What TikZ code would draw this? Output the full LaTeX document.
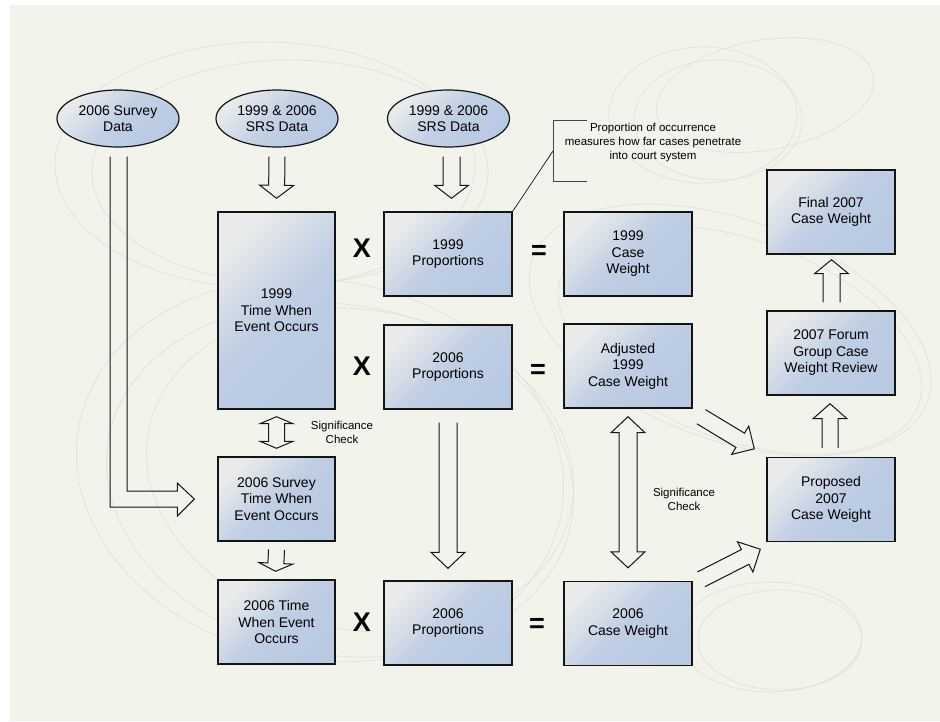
\documentclass[tikz,border=0pt]{standalone}
\usepackage{fontspec}
\setmainfont{Liberation Sans}
\usetikzlibrary{calc,shapes.geometric}
\definecolor{bgc}{HTML}{F2F3EB}
\definecolor{boxlight}{HTML}{E9EBEB}
\definecolor{boxblue}{HTML}{B8C9E2}
\definecolor{swirl}{HTML}{DFE5D9}
\definecolor{ink}{HTML}{141414}
\newcommand\barrow[5]{%
  \coordinate (bh) at ($(#2)!#5!(#1)$);
  \draw[blk] ($(#1)!#3!90:(#2)$) -- ($(bh)!#3!90:(#2)$) -- ($(bh)!#4!90:(#2)$) -- (#2)
    -- ($(bh)!#4!-90:(#2)$) -- ($(bh)!#3!-90:(#2)$) -- ($(#1)!#3!-90:(#2)$);
}
\newcommand\dbarrow[5]{%
  \coordinate (bha) at ($(#1)!#5!(#2)$);
  \coordinate (bhb) at ($(#2)!#5!(#1)$);
  \draw[blk] ($(bha)!#3!90:(#2)$) -- ($(bhb)!#3!-90:(#1)$) -- ($(bhb)!#4!-90:(#1)$) -- (#2)
    -- ($(bhb)!#4!90:(#1)$) -- ($(bhb)!#3!90:(#1)$) -- ($(bha)!#3!-90:(#2)$)
    -- ($(bha)!#4!-90:(#2)$) -- (#1) -- ($(bha)!#4!90:(#2)$) -- cycle;
}
\begin{document}
\begin{tikzpicture}[x=1pt,y=-1pt,
  box/.style={draw=ink, line width=1.4pt, rectangle, inner sep=2pt, align=center,
    font=\fontsize{14}{16.5}\selectfont, top color=boxlight, bottom color=boxblue,
    middle color=boxblue!85!boxlight, shading angle=45,
    minimum width=128pt, minimum height=84pt},
  tallbox/.style={box, minimum width=117pt},
  oval/.style={ellipse, draw=ink, line width=1.2pt, inner sep=0pt, align=center,
    font=\fontsize{14}{16}\selectfont, top color=boxlight, bottom color=boxblue,
    middle color=boxblue!80!boxlight, shading angle=45,
    minimum width=122pt, minimum height=57pt},
  op/.style={font=\fontsize{27}{27}\bfseries\selectfont, inner sep=0pt},
  note/.style={font=\fontsize{11.5}{14}\selectfont, align=center, inner sep=0pt},
  blk/.style={draw=ink, line width=1pt, line join=miter},
  sw/.style={draw=swirl, line width=0.8pt}]
\useasboundingbox (0,0) rectangle (940,721);
\fill[white] (0,0) rectangle (940,721);
\fill[bgc] (10,5) rectangle (940,721);
% decorative swirls
\draw[sw] (265,165) ellipse [x radius=210, y radius=123];
\draw[sw] (290,172) ellipse [x radius=198, y radius=112];
\draw[sw] (320,470) ellipse [x radius=245, y radius=190, rotate=-10];
\draw[sw] (340,480) ellipse [x radius=235, y radius=175, rotate=-10];
\draw[sw] (360,470) ellipse [x radius=215, y radius=160, rotate=-10];
\draw[sw] (703,115) ellipse [x radius=94, y radius=68];
\draw[sw] (718,120) ellipse [x radius=84, y radius=60];
\draw[sw] (765,95) ellipse [x radius=110, y radius=55, rotate=10];
\draw[sw] (730,330) ellipse [x radius=210, y radius=110, rotate=-20];
\draw[sw] (740,340) ellipse [x radius=190, y radius=100, rotate=-20];
\draw[sw] (770,637) ellipse [x radius=92, y radius=55];
\draw[sw] (780,640) ellipse [x radius=82, y radius=50];
% data ovals
\node[oval] (e1) at (118,118.5) {2006 Survey\\Data};
\node[oval] (e2) at (277,118.5) {1999 \& 2006\\SRS Data};
\node[oval] (e3) at (448.5,118.5) {1999 \& 2006\\SRS Data};
% boxes
\node[tallbox, minimum height=197pt] (t1999) at (276.5,310.5) {1999\\Time When\\Event Occurs};
\node[box] (p1999) at (448,254) {1999\\Proportions};
\node[box] (p2006a) at (448,367) {2006\\Proportions};
\node[box] (cw1999) at (628,254) {1999\\Case\\Weight};
\node[box] (adj) at (628,366) {Adjusted\\1999\\Case Weight};
\node[box] (final) at (831,212) {Final 2007\\Case Weight};
\node[box] (forum) at (831,353) {2007 Forum\\Group Case\\Weight Review};
\node[box] (proposed) at (831,499.5) {Proposed\\2007\\Case Weight};
\node[tallbox] (s2006) at (276.5,499) {2006 Survey\\Time When\\Event Occurs};
\node[tallbox] (t2006) at (276.5,622) {2006 Time\\When Event\\Occurs};
\node[box] (p2006b) at (448,623) {2006\\Proportions};
\node[box] (cw2006) at (628,623.5) {2006\\Case Weight};
% operators
\node[op] (x1) at (362,248) {X};
\node[op] (x2) at (362,366) {X};
\node[op] (x3) at (362,622) {X};
\node[op] (q1) at (539,252) {=};
\node[op] (q2) at (538,371) {=};
\node[op] (q3) at (537,625) {=};
% notes
\node[note] (sig1) at (342,432) {Significance\\Check};
\node[note] (sig2) at (684,499) {Significance\\Check};
\node[note] (callout) at (653,143) {Proportion of occurrence\\measures how far cases penetrate\\into court system};
\coordinate (brk) at (553,151);
\draw[ink, line width=0.7pt] (p1999.north east) -- (brk);
\draw[ink!80, line width=0.8pt] (587,120) -- (553,120) -- (553,181) -- (587,181);
% L-shaped arrow from survey data
\coordinate (ltip) at ($(s2006.west)+(-23,0)$);
\draw[blk] ($(e1.south)+(-8,9)$) |- ($(ltip)+(-17,8)$) -- ($(ltip)+(-17,17)$) -- (ltip)
  -- ($(ltip)+(-17,-16)$) -- ($(ltip)+(-17,-8)$) -| ($(e1.south)+(9,9)$);
% straight block arrows
\coordinate (a1t) at ($(e2.south)+(0,9)$);   \coordinate (a1h) at ($(t1999.north)+(0,-13)$);
\barrow{a1t}{a1h}{8pt}{17pt}{13pt}
\coordinate (a2t) at ($(e3.south)+(3,9)$);   \coordinate (a2h) at ($(p1999.north)+(3.5,-13)$);
\barrow{a2t}{a2h}{8.5pt}{17pt}{13pt}
\coordinate (a3t) at ($(s2006.south)+(0,8)$); \coordinate (a3h) at ($(t2006.north)+(-1,-8)$);
\barrow{a3t}{a3h}{8pt}{17pt}{8pt}
\coordinate (a4t) at ($(p2006a.south)+(0,13)$); \coordinate (a4h) at ($(p2006b.north)+(0,-12)$);
\barrow{a4t}{a4h}{9pt}{17pt}{16pt}
\coordinate (a5t) at ($(forum.north)+(0.5,-8)$); \coordinate (a5h) at ($(final.south)+(0.5,5)$);
\barrow{a5t}{a5h}{8.5pt}{17pt}{14pt}
\coordinate (a6t) at ($(proposed.north)+(-1,-9)$); \coordinate (a6h) at ($(forum.south)+(-1,8)$);
\barrow{a6t}{a6h}{8pt}{17pt}{15pt}
\coordinate (a7t) at ($(adj.south east)+(8.5,8)$); \coordinate (a7h) at ($(proposed.north west)+(-12,-8)$);
\barrow{a7t}{a7h}{8.3pt}{16.5pt}{16.5pt}
\coordinate (a8t) at ($(cw2006.north east)+(8.5,-1.5)$); \coordinate (a8h) at ($(proposed.south west)+(-6,7)$);
\barrow{a8t}{a8h}{8.3pt}{17pt}{17pt}
% double arrows
\coordinate (d1a) at ($(t1999.south)+(0,7)$); \coordinate (d1b) at ($(s2006.north)+(0,-8)$);
\dbarrow{d1a}{d1b}{8pt}{16.5pt}{7pt}
\coordinate (d2a) at ($(adj.south)+(0,8)$); \coordinate (d2b) at ($(cw2006.north)+(0,-13)$);
\dbarrow{d2a}{d2b}{9pt}{17pt}{16pt}
\end{tikzpicture}
\end{document}
